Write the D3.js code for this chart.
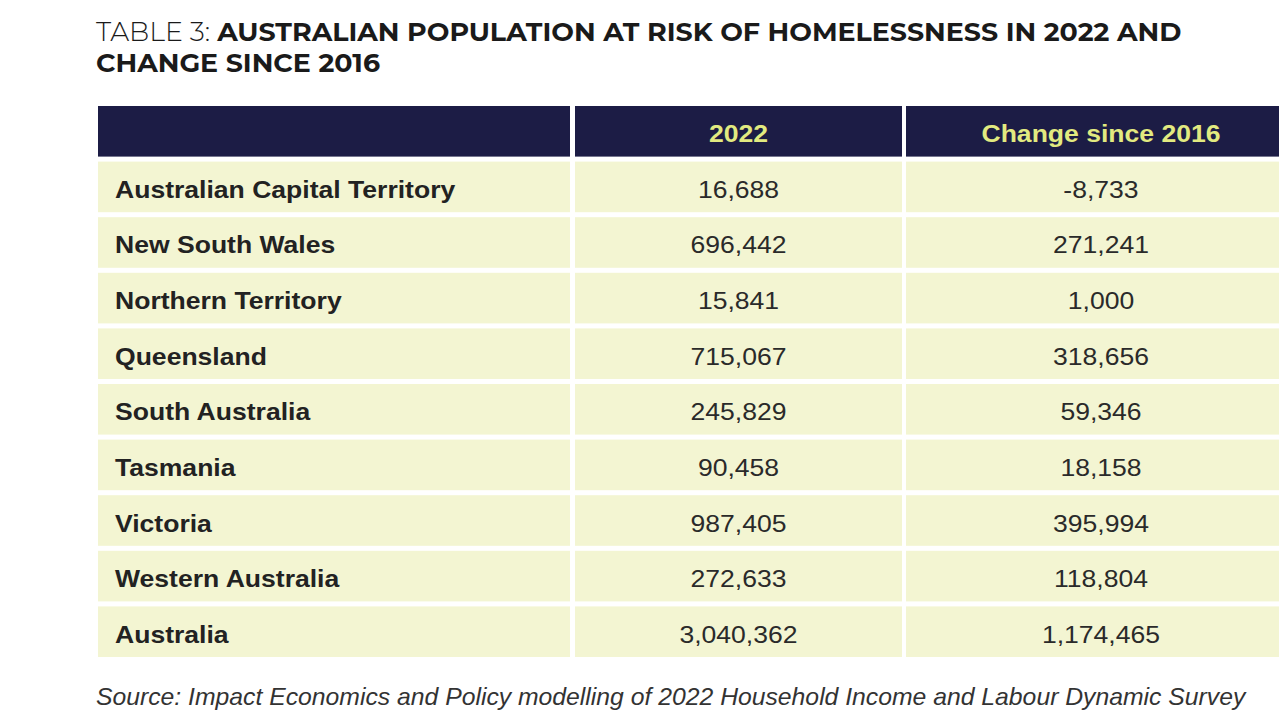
<!DOCTYPE html>
<html>
<head>
<meta charset="utf-8">
<script src="https://cdn.jsdelivr.net/npm/d3@7"></script>
<style>
  html, body { margin: 0; padding: 0; background: #ffffff; }
  svg { display: block; }
</style>
</head>
<body>
<script>
// ---- data ----
const titleLead = "TABLE 3:";
const titleLine1 = "AUSTRALIAN POPULATION AT RISK OF HOMELESSNESS IN 2022 AND";
const titleLine2 = "CHANGE SINCE 2016";
const headers = ["", "2022", "Change since 2016"];
const regions = ["Australian Capital Territory", "New South Wales", "Northern Territory", "Queensland",
  "South Australia", "Tasmania", "Victoria", "Western Australia", "Australia"];
const values2022 = [16688, 696442, 15841, 715067, 245829, 90458, 987405, 272633, 3040362];
const changeSince2016 = [-8733, 271241, 1000, 318656, 59346, 18158, 395994, 118804, 1174465];
const sourceNote = "Source: Impact Economics and Policy modelling of 2022 Household Income and Labour Dynamic Survey";

// ---- layout ----
const W = 1279, H = 719;
const SX = 1.155; // horizontal stretch of the reference image
const FS = 23;
const svg = d3.select("body").append("svg").attr("width", W).attr("height", H);

const locale = d3.formatLocale({ decimal: ".", thousands: ",", grouping: [3], currency: ["$", ""], minus: "-" });
const fmt = locale.format(",");
const rowKeys = ["__header__", ...regions];
const y = d3.scaleBand().domain(rowKeys).range([106, 657]).paddingInner(0.09);
const colLeft = [98, 575, 906];
const colRight = [570, 902, 1296];

function stretchedText(g, x, yPos, txt, anchor) {
  return g.append("text")
    .attr("transform", `translate(${x},${yPos}) scale(${SX},1)`)
    .attr("text-anchor", anchor || "start")
    .text(txt);
}

// title
const title = svg.append("g").attr("font-family", "Montserrat, 'Open Sans', 'Noto Sans', sans-serif").attr("fill", "#1a1a1a");
const t1 = title.append("text").attr("x", 0).attr("y", 0).attr("font-size", 26);
t1.append("tspan").attr("font-weight", 300).text(titleLead + " ");
t1.append("tspan").attr("font-weight", 700).text(titleLine1);
const t2 = title.append("text").attr("x", 0).attr("y", 0).attr("font-size", 26).attr("font-weight", 700).text(titleLine2);
const len1 = t1.node().getComputedTextLength();
const tsx = 1086 / len1;
t1.attr("transform", `translate(96,41) scale(${tsx},1)`);
t2.attr("transform", `translate(96,72) scale(${tsx},1)`);

// table
const table = svg.append("g");
rowKeys.forEach((key, i) => {
  const isHeader = i === 0;
  for (let c = 0; c < 3; c++) {
    table.append("rect")
      .attr("x", colLeft[c])
      .attr("y", y(key))
      .attr("width", colRight[c] - colLeft[c])
      .attr("height", y.bandwidth())
      .attr("fill", isHeader ? "#1c1c45" : "#f3f5d2");
  }
});

// header texts
const hg = table.append("g")
  .attr("font-family", "'Liberation Sans', Arial, sans-serif")
  .attr("font-weight", 700).attr("font-size", FS).attr("fill", "#e2ea80");
headers.forEach((h, c) => {
  if (!h) return;
  stretchedText(hg, (colLeft[c] + colRight[c]) / 2, y("__header__") + y.bandwidth() / 2 + 10.5, h, "middle");
});

// body
const bg = table.append("g").attr("font-family", "'Liberation Sans', Arial, sans-serif").attr("font-size", FS).attr("fill", "#222");
regions.forEach((r, i) => {
  const cy = y(r) + y.bandwidth() / 2 + 11;
  stretchedText(bg, 115, cy, r, "start").attr("font-weight", 700);
  stretchedText(bg, (colLeft[1] + colRight[1]) / 2, cy, fmt(values2022[i]), "middle").attr("fill", "#2a2a2a");
  stretchedText(bg, (colLeft[2] + colRight[2]) / 2, cy, fmt(changeSince2016[i]), "middle").attr("fill", "#2a2a2a");
});

// source
const src = svg.append("text")
  .attr("font-family", "'Liberation Sans', Arial, sans-serif")
  .attr("font-style", "italic").attr("font-size", 23).attr("fill", "#333")
  .text(sourceNote);
const sl = src.node().getComputedTextLength();
src.attr("transform", `translate(96,705) scale(${1150 / sl},1)`);
</script>
</body>
</html>
